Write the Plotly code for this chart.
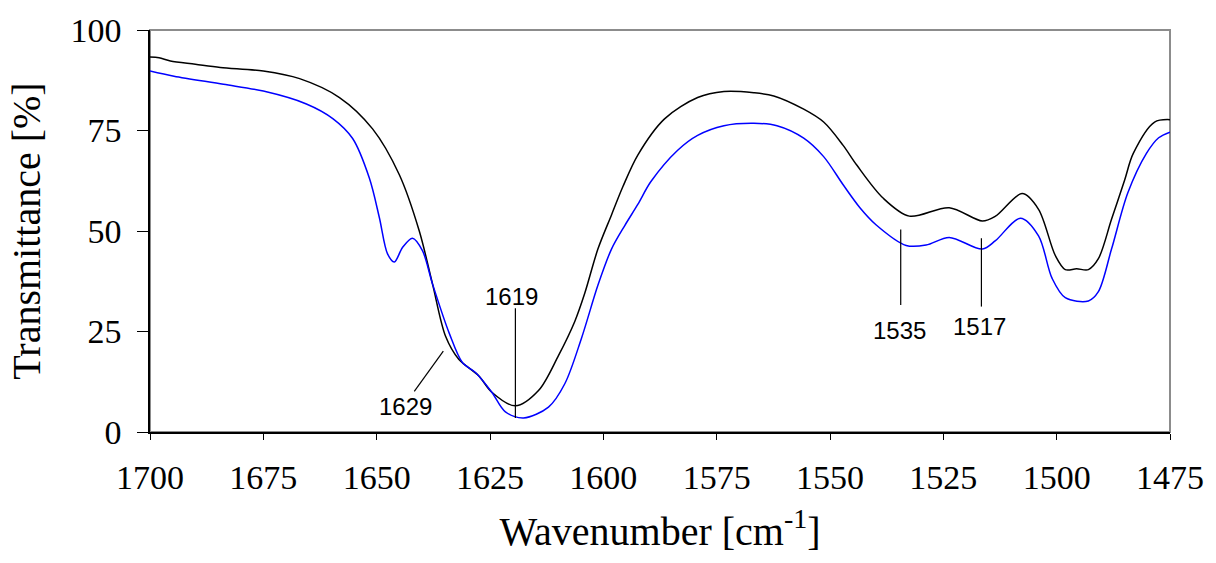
import plotly.graph_objects as go

# Sample 1 (black)
wn_black = [1700, 1698, 1695.5, 1690, 1684.5, 1675, 1667, 1658.2, 1650.9, 1645, 1640.6,
            1637.7, 1634.8, 1631.9, 1627.5, 1624.6, 1619.4, 1614.3, 1609.9, 1606.3, 1604.1,
            1601.2, 1598.2, 1595.7, 1592.4, 1586.5, 1579.2, 1573.4, 1566.8, 1562.4, 1555.8,
            1551.4, 1547.1, 1544.1, 1538.3, 1532.5, 1523.7, 1516.4, 1513.5, 1507.6, 1504,
            1500.3, 1498.1, 1495.6, 1493, 1490.8, 1487.9, 1485, 1483.1, 1478.4, 1475]
t_black = [93.3, 93.1, 92.3, 91.5, 90.7, 89.8, 87.9, 83.2, 75.4, 64.0, 50.0,
           36.9, 23.8, 18.1, 14.0, 9.9, 6.5, 10.3, 19.0, 27.5, 34.5,
           45.5, 54.0, 61.0, 68.9, 77.9, 83.2, 84.7, 84.4, 83.6, 80.3,
           77.1, 71.3, 66.4, 58.2, 53.7, 55.8, 52.5, 53.7, 59.3, 55.4,
           43.9, 40.4, 40.6, 40.4, 43.1, 52.9, 62.7, 69.3, 77.1, 77.7]

# Sample 2 (blue)
wn_blue = [1700, 1694.7, 1683.8, 1675, 1665.5, 1659.6, 1655.3, 1651.6, 1649.4, 1647.6,
           1646.1, 1644.3, 1642.1, 1639.9, 1637.7, 1634, 1631.1, 1628.2, 1624.6, 1621.6,
           1617.6, 1612.1, 1608.5, 1604.8, 1601.2, 1598.2, 1595.3, 1592.4, 1589.5, 1583.6,
           1579.2, 1573.4, 1566.8, 1561.7, 1555.8, 1551.4, 1547.1, 1543.4, 1539.8, 1533.2,
           1528.8, 1523.7, 1516.4, 1513.5, 1508, 1504, 1501, 1498.1, 1493, 1490.8,
           1487.9, 1484.3, 1480.2, 1477.5, 1475]
t_blue = [89.8, 88.5, 86.5, 84.8, 81.6, 77.9, 73.0, 63.1, 53.3, 44.3,
          42.3, 45.9, 48.2, 45.1, 36.9, 24.6, 17.3, 14.8, 9.9, 5.0,
          3.5, 6.2, 12.0, 23.4, 36.5, 45.5, 51.3, 56.6, 62.3, 70.1,
          73.8, 76.2, 76.8, 76.2, 73.1, 68.5, 61.5, 55.8, 51.5, 46.4,
          46.5, 48.4, 45.5, 47.6, 53.2, 48.8, 38.2, 33.4, 32.6, 34.9,
          45.5, 59.5, 69.3, 73.2, 74.6]

# Peak labels
peak_labels = ["1629", "1619", "1535", "1517"]
peak_text_x = [1643.6, 1620.2, 1534.6, 1517.1]
peak_text_y = [6.4, 33.6, 25.2, 26.2]
peak_line_x0 = [1635.3, 1619.4, 1534.4, 1516.6]
peak_line_y0 = [20.1, 30.8, 50.4, 48.2]
peak_line_x1 = [1641.7, 1619.4, 1534.4, 1516.6]
peak_line_y1 = [10.1, 3.5, 31.6, 31.2]

x_ticks = [1700, 1675, 1650, 1625, 1600, 1575, 1550, 1525, 1500, 1475]
y_ticks = [0, 25, 50, 75, 100]

fig = go.Figure()
fig.add_trace(go.Scatter(x=wn_black, y=t_black, mode="lines",
                         line=dict(color="#000000", width=1.5, shape="spline", smoothing=0.9),
                         showlegend=False))
fig.add_trace(go.Scatter(x=wn_blue, y=t_blue, mode="lines",
                         line=dict(color="#0000ff", width=1.5, shape="spline", smoothing=0.9),
                         showlegend=False))

for i in range(len(peak_labels)):
    fig.add_shape(type="line", xref="x", yref="y",
                  x0=peak_line_x0[i], y0=peak_line_y0[i], x1=peak_line_x1[i], y1=peak_line_y1[i],
                  line=dict(color="black", width=1.2))
    fig.add_annotation(x=peak_text_x[i], y=peak_text_y[i], text=peak_labels[i],
                       showarrow=False, xref="x", yref="y",
                       font=dict(family="Liberation Sans, Arial", size=24, color="black"))

# gray frame on top/right
fig.add_shape(type="rect", xref="paper", yref="paper", x0=0, y0=0, x1=1, y1=1,
              line=dict(color="#8c8c8c", width=2), layer="below")

fig.update_layout(
    width=1216, height=563,
    margin=dict(l=150, r=41, t=25, b=131),
    paper_bgcolor="white", plot_bgcolor="white",
    font=dict(family="Liberation Serif, Times New Roman", color="black"),
    xaxis=dict(range=[1700, 1475], tickvals=x_ticks, ticktext=[str(v) for v in x_ticks],
               showgrid=False, zeroline=False, showline=True, linecolor="black", linewidth=1.5,
               ticks="outside", ticklen=6, tickcolor="black", tickwidth=1.2,
               ticklabelstandoff=8,
               tickfont=dict(size=34, family="Liberation Serif"),
               title=dict(text="Wavenumber [cm<sup>-1</sup>]", font=dict(size=40, family="Liberation Serif"),
                          standoff=22)),
    yaxis=dict(range=[0, 100], tickvals=y_ticks, ticktext=[str(v) for v in y_ticks],
               showgrid=False, zeroline=False, showline=True, linecolor="black", linewidth=1.5,
               ticks="outside", ticklen=11, tickcolor="black", tickwidth=1.2,
               ticklabelstandoff=9,
               tickfont=dict(size=34, family="Liberation Serif"),
               title=dict(text="Transmittance [%]", font=dict(size=40, family="Liberation Serif"),
                          standoff=17)),
)

fig.write_html("out.html")
